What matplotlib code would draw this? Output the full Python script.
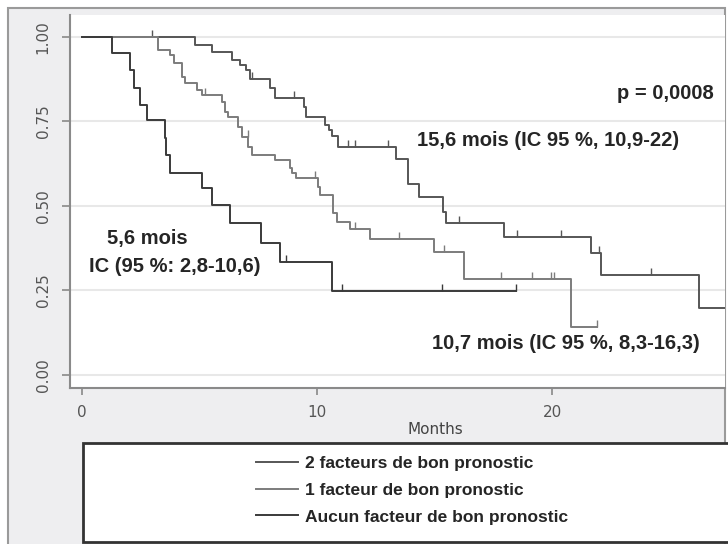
import numpy as np
import matplotlib
matplotlib.use("Agg")
import matplotlib.pyplot as plt
from matplotlib.patches import Rectangle

plt.rcParams.update({
    "font.family": "DejaVu Sans",
    "font.size": 11,
})

# ------------------------------------------------------------------
# Kaplan-Meier data (months, survival)
# ------------------------------------------------------------------
# 2 facteurs de bon pronostic
two_times = [4.81, 5.55, 6.40, 6.72, 7.00, 7.15, 8.00, 8.21, 9.45, 9.52,
             10.34, 10.50, 10.62, 10.91, 13.35, 13.86, 14.32, 15.35, 15.50,
             17.95, 21.65, 22.10, 26.26]
two_surv = [0.976, 0.957, 0.932, 0.917, 0.902, 0.875, 0.848, 0.818, 0.794, 0.762,
            0.740, 0.725, 0.707, 0.675, 0.640, 0.565, 0.528, 0.483, 0.449,
            0.408, 0.360, 0.296, 0.197]
two_end = 27.5
two_cens = [2.97, 7.22, 9.0, 11.3, 11.6, 13.0, 16.04, 18.5, 20.37, 22.0, 24.2]

# 1 facteur de bon pronostic
one_times = [3.25, 3.74, 3.93, 4.24, 4.38, 4.88, 5.09, 5.94, 6.09, 6.23,
             6.65, 6.80, 7.08, 7.25, 8.21, 8.85, 8.95, 9.10, 10.06, 10.13,
             10.70, 10.84, 11.40, 12.26, 14.98, 16.26, 20.80]
one_surv = [0.962, 0.947, 0.922, 0.883, 0.863, 0.843, 0.828, 0.809, 0.779, 0.764,
            0.735, 0.705, 0.675, 0.651, 0.636, 0.611, 0.597, 0.582, 0.557, 0.533,
            0.478, 0.454, 0.431, 0.402, 0.365, 0.283, 0.143]
one_end = 21.93
one_cens = [5.25, 7.05, 9.9, 11.6, 13.5, 15.4, 17.84, 19.16, 19.97, 20.1, 21.93]

# Aucun facteur de bon pronostic
zero_times = [1.26, 2.04, 2.23, 2.47, 2.75, 3.53, 3.58, 3.74, 5.09, 5.52,
              6.30, 7.60, 8.43, 10.62]
zero_surv = [0.954, 0.902, 0.848, 0.799, 0.754, 0.700, 0.651, 0.597, 0.552, 0.503,
             0.449, 0.390, 0.335, 0.249]
zero_end = 18.47
zero_cens = [8.7, 11.05, 15.33, 18.47]

labels = ["2 facteurs de bon pronostic",
          "1 facteur de bon pronostic",
          "Aucun facteur de bon pronostic"]
colors = ["#565656", "#7c7c7c", "#3a3a3a"]

y_ticks = [0.0, 0.25, 0.5, 0.75, 1.0]
y_ticklabels = ["0.00", "0.25", "0.50", "0.75", "1.00"]
x_ticks = [0, 10, 20]

W, H = 728, 544
fig = plt.figure(figsize=(W / 100, H / 100), dpi=100, facecolor="white")

# outer graph region (light gray with a thin frame)
fig.patches.append(Rectangle((8 / W, -4 / H), 717 / W, 540 / H,
                             transform=fig.transFigure, facecolor="#eeeef0",
                             edgecolor="#9a9a9a", lw=1.5, zorder=-2))

ax = fig.add_axes([70 / W, 1 - 388 / H, 655 / W, 373 / H])
ax.set_facecolor("white")


def km_steps(times, surv, end):
    x = np.concatenate([[0.0], times, [end]])
    y = np.concatenate([[1.0], surv, [surv[-1]]])
    return x, y


def surv_at(times, surv, t):
    idx = np.searchsorted(times, t, side="right")
    levels = np.concatenate([[1.0], surv])
    return levels[idx]


groups = [
    (two_times, two_surv, two_end, two_cens),
    (one_times, one_surv, one_end, one_cens),
    (zero_times, zero_surv, zero_end, zero_cens),
]
handles = []
for (t, s, end, cens), lab, col in zip(groups, labels, colors):
    xs, ys = km_steps(t, s, end)
    h, = ax.step(xs, ys, where="post", color=col, lw=1.4, label=lab)
    handles.append(h)
    ax.plot(cens, surv_at(t, s, cens), linestyle="none", marker=2,
            markersize=5, mew=1.0, color=col)

ax.set_xlim(-0.51, 27.36)
ax.set_ylim(-0.0385, 1.065)

ax.set_yticks(y_ticks)
ax.set_yticklabels(y_ticklabels, rotation=90, va="center", color="#555555")
ax.set_xticks(x_ticks)
ax.tick_params(axis="y", length=6, width=1.2, color="#888888", pad=8)
ax.tick_params(axis="x", length=5, width=1.2, color="#888888", pad=7,
               labelcolor="#555555")
ax.grid(axis="y", color="#e8e8e8", lw=1.5)
ax.set_axisbelow(True)

for side in ["top", "right"]:
    ax.spines[side].set_visible(False)
for side in ["left", "bottom"]:
    ax.spines[side].set_color("#8a8a8a")
    ax.spines[side].set_linewidth(1.5)

ax.set_xlabel("Months", fontsize=11, color="#444444")
ax.xaxis.set_label_coords((435 - 70) / 655, (388 - 422) / 373)

bold = dict(family="Liberation Sans", weight="bold", fontsize=14.5, color="#252525")
ax.text(26.9, 0.834, "p = 0,0008", ha="right", va="center", **bold)
ax.text(14.26, 0.695, "15,6 mois (IC 95 %, 10,9-22)", ha="left", va="center", **bold)
ax.text(14.9, 0.094, "10,7 mois (IC 95 %, 8,3-16,3)", ha="left", va="center", **bold)
ax.text(1.07, 0.404, "5,6 mois", ha="left", va="center", **bold)
ax.text(0.30, 0.320, "IC (95 %: 2,8-10,6)", ha="left", va="center", **bold)

# legend box
fig.patches.append(Rectangle((83 / W, 2 / H), 660 / W, 99 / H,
                             transform=fig.transFigure, facecolor="white",
                             edgecolor="#333333", lw=2, zorder=1))
fig.legend(handles=handles, labels=labels, loc="center left",
           bbox_to_anchor=(256 / W, 1 - 490 / H), frameon=False,
           prop=dict(family="Liberation Sans", weight="bold", size=12.5),
           labelcolor="#252525", handlelength=2.4, handletextpad=0.45,
           labelspacing=0.68, borderpad=0, borderaxespad=0)

fig.savefig("out.png", dpi=100, facecolor=fig.get_facecolor())
